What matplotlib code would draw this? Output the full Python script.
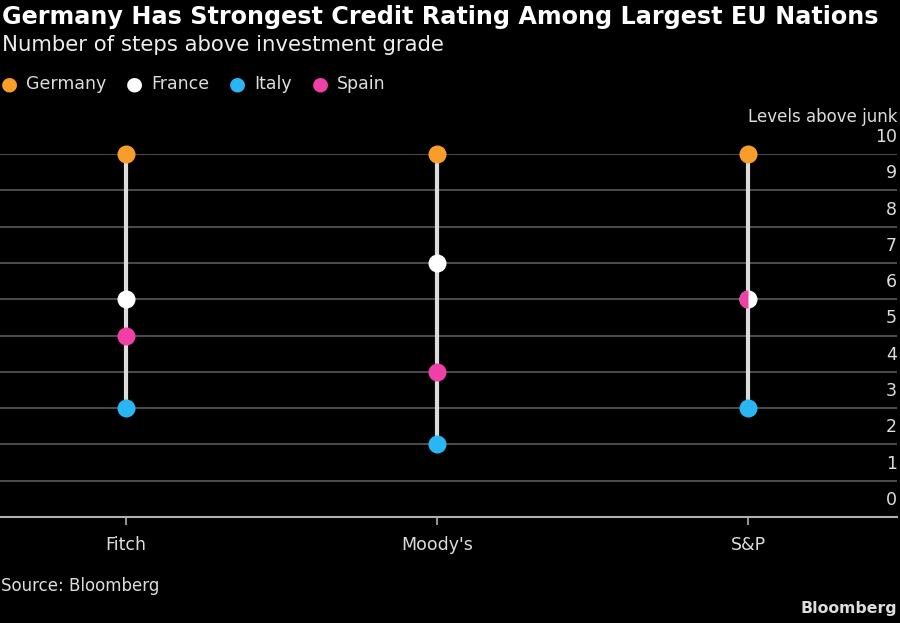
import matplotlib.pyplot as plt
import numpy as np

agencies = ["Fitch", "Moody's", "S&P"]
germany = [10, 10, 10]
france = [6, 7, 6]
italy = [3, 2, 3]
spain = [5, 4, 6]

series = [("Germany", germany, "#f99d2a"),
          ("France", france, "#ffffff"),
          ("Italy", italy, "#29b6f2"),
          ("Spain", spain, "#f03fa7")]

plt.rcParams['font.family'] = ['DejaVu Sans']

fig = plt.figure(figsize=(9, 6.23), dpi=100, facecolor='black')
ax = fig.add_axes([0, 1 - 517/623, 897/900, (517 - 154)/623])
ax.set_facecolor('black')

x = np.arange(len(agencies))
ax.set_xlim(-126/311, (897 - 126)/311)
ax.set_ylim(0, 10)

# gridlines
for v in range(1, 11):
    ax.axhline(v, color='#5a5a5a', lw=1.2, zorder=1)
ax.axhline(0, color='#b0b0b0', lw=1.5, zorder=1, clip_on=False)

# range lines
allv = np.array([germany, france, italy, spain])
ax.vlines(x, allv.min(axis=0), allv.max(axis=0), color='#dcdcdc', lw=3, zorder=2)

for name, vals, col in series:
    for i, v in enumerate(vals):
        fs = 'full'
        if name == "Spain" and v == france[i]:
            fs = 'left'
        ax.plot(x[i], v, 'o', ms=13, color=col, mec='none', fillstyle=fs,
                markerfacecoloralt='none', zorder=3, clip_on=False)

for s in ax.spines.values():
    s.set_visible(False)
ax.set_xticks(x)
ax.set_xticklabels(agencies)
ax.tick_params(axis='x', colors='#b0b0b0', length=6, width=1.2, labelsize=12.5,
               labelcolor='#dddddd', pad=8)
ax.set_yticks([])
for v in range(0, 11):
    ax.text(1.0, v + 0.47, str(v), transform=ax.get_yaxis_transform(),
            ha='right', va='center', color='#dddddd', fontsize=12.5)
ax.text(1.0, 11.02, "Levels above junk", transform=ax.get_yaxis_transform(),
        ha='right', va='center', color='#dddddd', fontsize=12)

fig.text(0.002, 1 - 17/623, "Germany Has Strongest Credit Rating Among Largest EU Nations",
         color='white', fontsize=17.2, fontweight='bold', va='center', ha='left')
fig.text(0.002, 1 - 45/623, "Number of steps above investment grade",
         color='#eeeeee', fontsize=15.3, va='center', ha='left')

lx = 1
for name, vals, col in series:
    fig.text(lx / 900, 1 - 84/623, "\u25cf", color=col, fontsize=14, va='center', ha='left')
    t = fig.text((lx + 25) / 900, 1 - 84/623, name, color='#dddddd', fontsize=12.5,
                 va='center', ha='left')
    fig.canvas.draw()
    bb = t.get_window_extent()
    lx = bb.x1 + 20

fig.text(0.001, 1 - 586/623, "Source: Bloomberg", color='#dddddd', fontsize=12,
         va='center', ha='left')
fig.text(0.997, 1 - 609/623, "Bloomberg", color='#dddddd', fontsize=11.3,
         fontweight='bold', va='center', ha='right')

fig.savefig('out.png', dpi=100, facecolor='black')
